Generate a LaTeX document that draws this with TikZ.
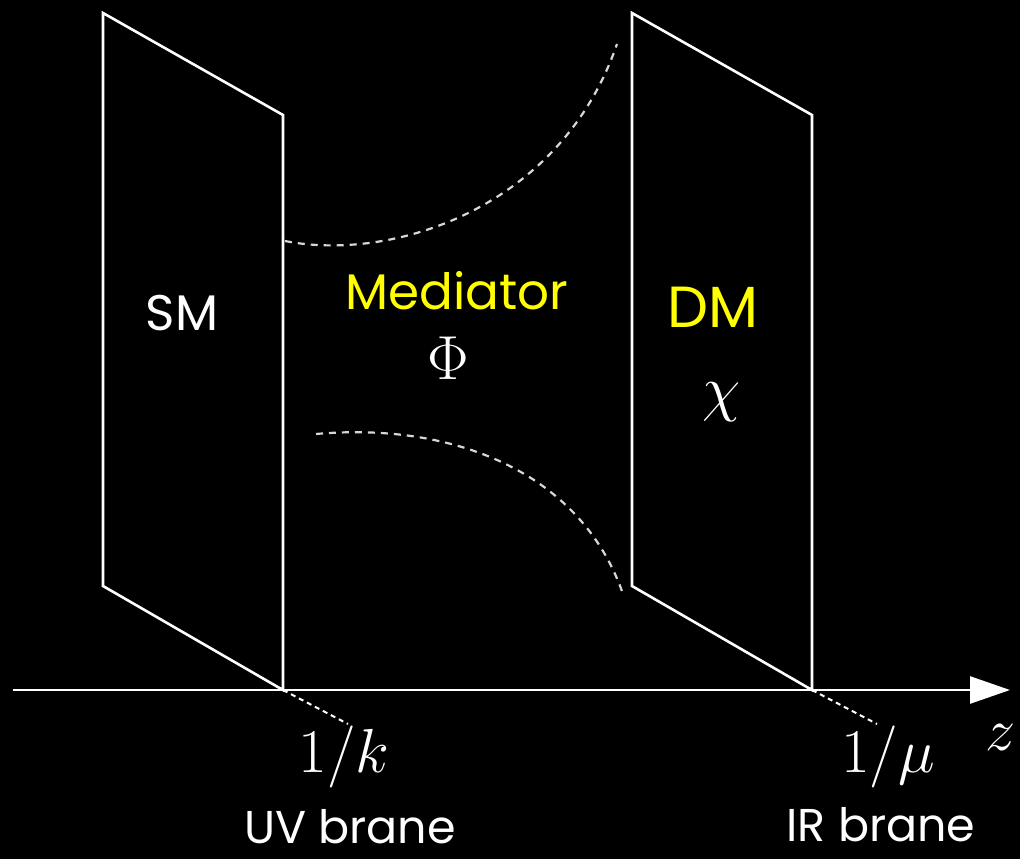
\documentclass[tikz,border=0pt]{standalone}
\usepackage{fontspec}
\setsansfont{Poppins}
\usetikzlibrary{positioning, arrows.meta}
\definecolor{medyellow}{RGB}{255,255,0}
\definecolor{curvegray}{RGB}{215,215,215}
\tikzset{
  brane/.style={draw=white,line width=2.6pt,line join=miter},
  bulkcurve/.style={draw=curvegray,line width=2.2pt,dash pattern=on 7pt off 6pt},
  tick/.style={draw=white,line width=2pt,dash pattern=on 5pt off 4pt},
  lbl/.style={text=white,font=\sffamily\fontsize{50}{56}\selectfont},
  mathlbl/.style={text=white,font=\Huge,scale=2.5},
}
\begin{document}
\begin{tikzpicture}[x=1pt,y=-1pt,every node/.style={inner sep=0pt,outer sep=0pt}]
        \fill[black] (0,0) rectangle (1020,859);
        \useasboundingbox (0,0) rectangle (1020,859);
        % branes
        \foreach \name/\x in {uv/103,ir/632} {
            \draw[brane] (\x,13) -- (\x+180,115) -- (\x+180,690) -- (\x,586) -- cycle;
            \coordinate (\name-foot) at (\x+180,690);
        }
        % z axis
        \coordinate (ax-start) at (13,690);
        \coordinate (ax-end) at (1010,690);
        \draw[white,line width=2.6pt,-{Triangle[length=40pt,width=27pt]}] (ax-start) -- (ax-end);
        \node[mathlbl,scale=0.97] (zlab) at (1001,738) {$z$};
        % bulk profile
        \draw[bulkcurve] (285,241) .. controls (390,262) and (560,210) .. (617,44);
        \draw[bulkcurve] (316,434) .. controls (450,422) and (580,470) .. (623,594);
        % labels
        \node[lbl] (sm) at (182,313) {SM};
        \node[lbl,text=medyellow] (mediator) at (457,291) {Mediator};
        \node[mathlbl] (phi) at (448,358) {$\Phi$};
        \node[lbl,text=medyellow,font=\sffamily\fontsize{58}{62}\selectfont] (dm) at (713,307) {DM};
        \node[mathlbl] (chi) at (722,402) {$\chi$};
        \node[mathlbl] (uvpos) at (344,757) {$1/k$};
        \node[mathlbl] (irpos) at (888,757) {$1/\mu$};
        \node[lbl,font=\sffamily\fontsize{46}{50}\selectfont,anchor=base] (uvname) at (350,843) {UV brane};
        \node[lbl,font=\sffamily\fontsize{46}{50}\selectfont,anchor=base] (irname) at (881,841) {IR brane};
        \draw[tick] (uv-foot) -- (348,724);
        \draw[tick] (ir-foot) -- (877,724);
\end{tikzpicture}
\end{document}
